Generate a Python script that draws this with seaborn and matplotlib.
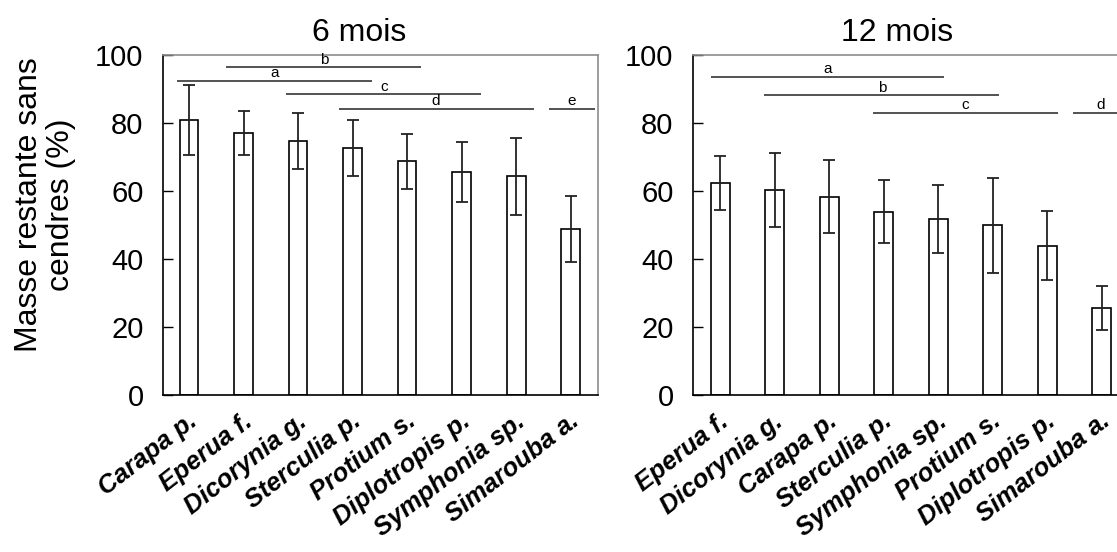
import numpy as np
import pandas as pd
import matplotlib
matplotlib.use("Agg")
import matplotlib.pyplot as plt
import matplotlib.transforms as mtrans
import seaborn as sns

# 6 months
species_6 = ["Carapa p.", "Eperua f.", "Dicorynia g.", "Sterculia p.",
             "Protium s.", "Diplotropis p.", "Symphonia sp.", "Simarouba a."]
mass_6 = [81.0, 77.0, 74.7, 72.6, 68.7, 65.5, 64.3, 48.9]
err_6 = [10.3, 6.4, 8.2, 8.3, 8.0, 8.8, 11.3, 9.7]
# significance groups: letter, first bar, last bar, height
groups_6 = ["a", "b", "c", "d", "e"]
grp_start_6 = [-0.22, 0.68, 1.78, 2.74, 6.60]
grp_end_6 = [3.36, 4.26, 5.36, 6.32, 7.45]
grp_y_6 = [92.4, 96.4, 88.4, 84.2, 84.2]

# 12 months
species_12 = ["Eperua f.", "Dicorynia g.", "Carapa p.", "Sterculia p.",
              "Symphonia sp.", "Protium s.", "Diplotropis p.", "Simarouba a."]
mass_12 = [62.3, 60.3, 58.3, 53.9, 51.9, 49.9, 43.9, 25.6]
err_12 = [8.0, 11.0, 10.7, 9.3, 10.0, 14.0, 10.2, 6.4]
groups_12 = ["a", "b", "c", "d"]
grp_start_12 = [-0.17, 0.81, 2.80, 6.47]
grp_end_12 = [4.10, 5.12, 6.19, 7.50]
grp_y_12 = [93.5, 88.1, 83.0, 83.0]

sns.set_style("ticks")
plt.rcParams["font.family"] = ["Liberation Sans", "DejaVu Sans"]
plt.rcParams["text.color"] = "black"
plt.rcParams["xtick.color"] = "black"
plt.rcParams["ytick.color"] = "black"

fig = plt.figure(figsize=(11.17, 5.52), dpi=100)
ax1 = fig.add_axes([163 / 1117, 1 - 395 / 552, 435 / 1117, 340 / 552])
ax2 = fig.add_axes([693 / 1117, 1 - 395 / 552, 436 / 1117, 340 / 552])


def panel(ax, species, mass, err, groups, gs, ge, gy, title, title_x, xlim):
    df = pd.DataFrame({"species": species, "mass": mass})
    sns.barplot(data=df, x="species", y="mass", order=species, ax=ax,
                color="white", edgecolor="black", linewidth=1.2,
                width=0.34, saturation=1, errorbar=None)
    ax.errorbar(np.arange(len(species)), mass, yerr=err, fmt="none",
                ecolor="#222222", elinewidth=1.3, capsize=4.3, capthick=1.3)
    for g, a, b, y in zip(groups, gs, ge, gy):
        ax.plot([a, b], [y, y], color="#444444", lw=1.3, solid_capstyle="butt")
        ax.text((a + b) / 2, y + 0.2, g, ha="center", va="bottom", fontsize=11)
    ax.set_ylim(0, 100)
    ax.set_xlim(*xlim)
    ax.set_yticks([0, 20, 40, 60, 80, 100])
    ax.tick_params(axis="y", direction="in", length=7, width=1, labelsize=21, pad=14)
    ax.tick_params(axis="x", length=0, pad=10)
    ax.set_xticks(np.arange(len(species)))
    ax.set_xticklabels(species, rotation=38, ha="right", va="top",
                       rotation_mode="anchor", fontsize=18.5,
                       fontweight="bold", fontstyle="italic")
    off = mtrans.ScaledTranslation(-2 / 100, 0, fig.dpi_scale_trans)
    for lab in ax.get_xticklabels():
        lab.set_transform(lab.get_transform() + off)
    ax.set_xlabel("")
    ax.set_ylabel("")
    ax.set_title(title, fontsize=23, x=title_x, pad=10)
    for s in ["left", "bottom"]:
        ax.spines[s].set_color("black")
        ax.spines[s].set_linewidth(1.2)
    for s in ["top", "right"]:
        ax.spines[s].set_color("#8c8c8c")
        ax.spines[s].set_linewidth(1.2)


panel(ax1, species_6, mass_6, err_6, groups_6, grp_start_6, grp_end_6, grp_y_6,
      "6 mois", 0.45, (-0.48, 7.5))
panel(ax2, species_12, mass_12, err_12, groups_12, grp_start_12, grp_end_12, grp_y_12,
      "12 mois", 0.468, (-0.5, 7.5))

fig.text(45 / 1117, 1 - 205 / 552, "Masse restante sans\ncendres (%)",
         rotation=90, ha="center", va="center", multialignment="center",
         fontsize=23, linespacing=1.1)

fig.savefig("out.png", dpi=100)
